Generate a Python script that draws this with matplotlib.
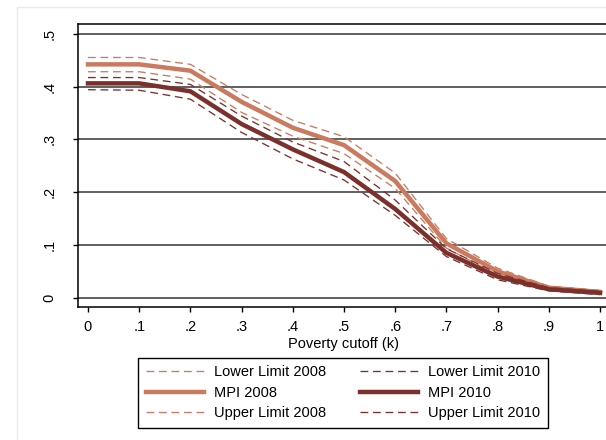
import matplotlib
matplotlib.use("Agg")
import matplotlib.pyplot as plt
from matplotlib.patches import Rectangle

plt.rcParams['font.family'] = ['Liberation Sans', 'DejaVu Sans']
plt.rcParams['lines.scale_dashes'] = False

# poverty cutoff k and the six curves
k = [0, .1, .2, .3, .4, .5, .6, .7, .8, .9, 1]
lower_2008 = [0.428, 0.428, 0.414, 0.351, 0.306, 0.273, 0.207, 0.094, 0.043, 0.016, 0.008]
mpi_2008 = [0.442, 0.442, 0.430, 0.371, 0.322, 0.289, 0.221, 0.103, 0.050, 0.019, 0.011]
upper_2008 = [0.455, 0.455, 0.442, 0.385, 0.336, 0.305, 0.236, 0.112, 0.056, 0.022, 0.014]
lower_2010 = [0.394, 0.393, 0.376, 0.313, 0.263, 0.223, 0.156, 0.078, 0.034, 0.013, 0.006]
mpi_2010 = [0.406, 0.406, 0.391, 0.329, 0.281, 0.238, 0.168, 0.085, 0.040, 0.016, 0.009]
upper_2010 = [0.417, 0.417, 0.404, 0.344, 0.295, 0.258, 0.185, 0.093, 0.046, 0.019, 0.012]

xticks = [0, .1, .2, .3, .4, .5, .6, .7, .8, .9, 1]
xlabels = ["0", ".1", ".2", ".3", ".4", ".5", ".6", ".7", ".8", ".9", "1"]
yticks = [0, .1, .2, .3, .4, .5]
ylabels = ["0", ".1", ".2", ".3", ".4", ".5"]

c08 = "#c97a5f"
c10 = "#7b302c"
dash = (0, (5.6, 3.4))

W, H = 606, 440
fig = plt.figure(figsize=(W / 100, H / 100), dpi=100)
fig.add_artist(Rectangle((17 / W, -0.05), 1.2, 1 - 7 / H + 0.05, transform=fig.transFigure,
                         fill=False, edgecolor="#e3edeb", lw=1.0))

ax = fig.add_axes([78 / W, 1 - 306.7 / H, 532 / W, 283 / H])
ax.set_xlim(-0.0195, 1.0195)
ax.set_ylim(-0.017, 0.519)

for y in yticks:
    ax.axhline(y, color="#444444", lw=1.2, zorder=1)

ax.plot(k, lower_2008, color=c08, lw=0.95, ls=dash, label="Lower Limit 2008", zorder=2)
ax.plot(k, mpi_2008, color=c08, lw=3.2, label="MPI 2008", zorder=2)
ax.plot(k, upper_2008, color=c08, lw=0.95, ls=dash, label="Upper Limit 2008", zorder=2)
ax.plot(k, lower_2010, color=c10, lw=0.95, ls=dash, label="Lower Limit 2010", zorder=3)
ax.plot(k, mpi_2010, color=c10, lw=3.2, label="MPI 2010", zorder=3)
ax.plot(k, upper_2010, color=c10, lw=0.95, ls=dash, label="Upper Limit 2010", zorder=3)

for s in ax.spines.values():
    s.set_color("black"); s.set_linewidth(1.1)

ax.set_xticks(xticks, xlabels, fontsize=10.5)
ax.set_yticks(yticks, ylabels, fontsize=10.5, rotation=90, va="center")
ax.tick_params(axis="x", length=3.5, width=1, pad=6)
ax.tick_params(axis="y", length=3.5, width=1, pad=12)
ax.set_xlabel("Poverty cutoff (k)", fontsize=10.5, labelpad=2)

handles, labels = ax.get_legend_handles_labels()
leg = fig.legend(handles, labels, ncol=2, loc="upper center",
                 bbox_to_anchor=(343 / W, 1 - 358 / H), fontsize=10.5,
                 frameon=True, fancybox=False, edgecolor="black", framealpha=1,
                 handlelength=4.0, handletextpad=0.7, columnspacing=2.3,
                 labelspacing=0.45, borderpad=0.5, borderaxespad=0)
leg.get_frame().set_linewidth(1.0)

fig.savefig("out.png", dpi=100)
